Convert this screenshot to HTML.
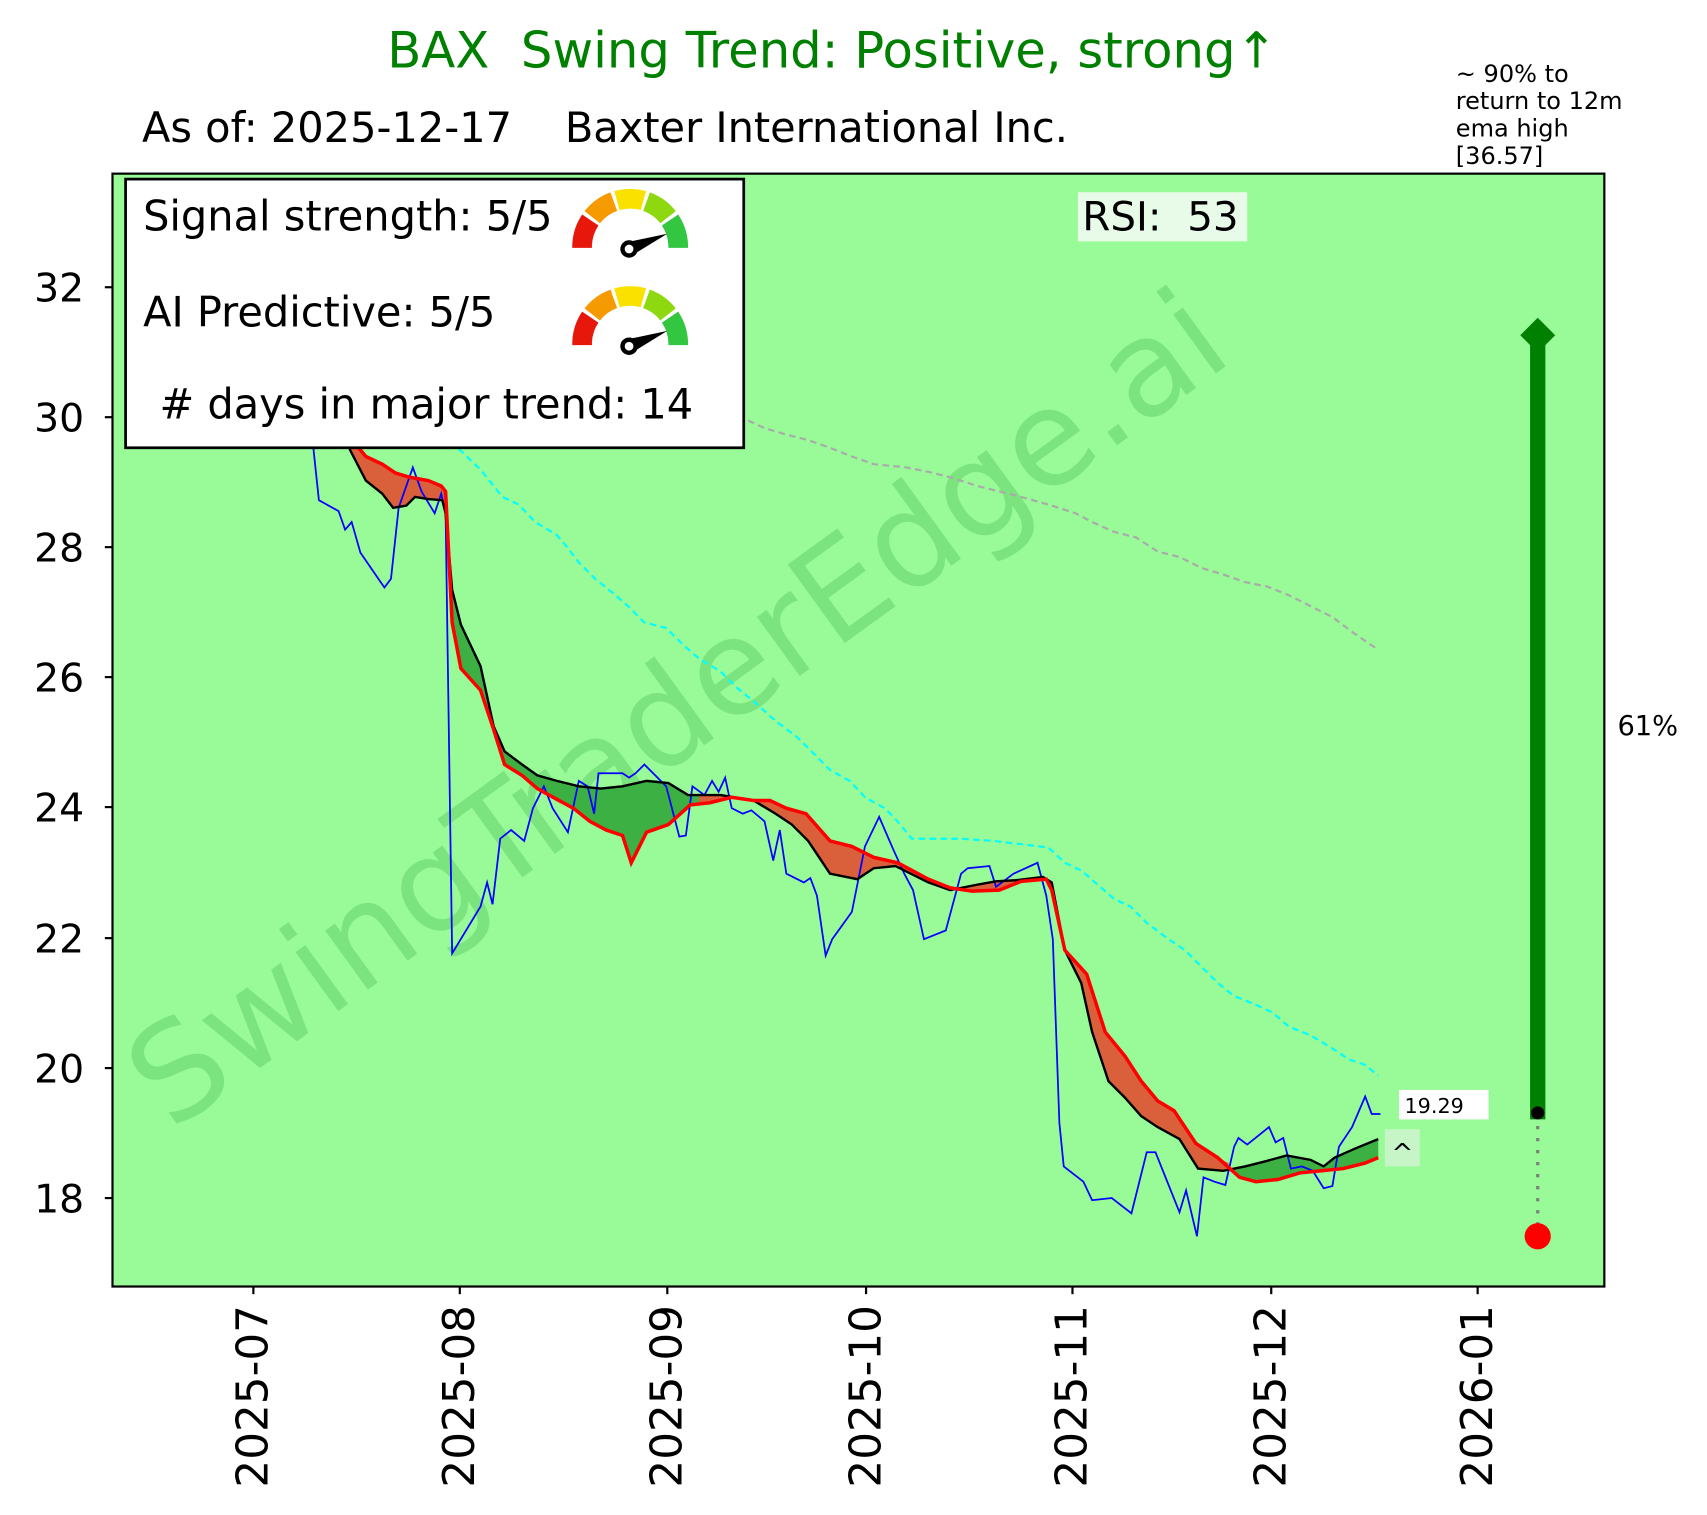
<!DOCTYPE html>
<html><head><meta charset="utf-8"><style>
html,body{margin:0;padding:0;background:#fff}
svg{display:block;font-family:"DejaVu Sans","Liberation Sans",sans-serif}
text{white-space:pre}
</style></head><body>
<svg width="1707" height="1515" viewBox="0 0 1563 1387.2" xmlns="http://www.w3.org/2000/svg" xml:space="preserve">
<defs>
<clipPath id="ax"><rect x="103" y="159" width="1366" height="1019"/></clipPath>
<clipPath id="gr"><rect x="414" y="0" width="226" height="1400"/><rect x="1125" y="0" width="200" height="1400"/></clipPath>
<clipPath id="og"><rect x="0" y="0" width="414" height="1400"/><rect x="640" y="0" width="485" height="1400"/></clipPath>
</defs>
<rect width="1563" height="1388" fill="#fff"/>
<text x="762" y="62" text-anchor="middle" font-size="45.5" fill="#008000">BAX  Swing Trend: Positive, strong↑</text>
<text x="130" y="130" font-size="38" fill="#000">As of: 2025-12-17    Baxter International Inc.</text>
<text font-size="22" fill="#000"><tspan x="1333" y="75">~ 90% to</tspan><tspan x="1333" y="100">return to 12m</tspan><tspan x="1333" y="125">ema high</tspan><tspan x="1333" y="150">[36.57]</tspan></text>
<rect x="103" y="159" width="1366" height="1019" fill="#98fb98"/>
<g clip-path="url(#ax)">
<text x="622" y="690" font-size="122" fill="#3cb043" fill-opacity="0.3" text-anchor="middle" transform="rotate(-36 622 652)">SwingTraderEdge.ai</text>
<polyline fill="none" stroke="#aaaaaa" stroke-width="2" stroke-dasharray="6,4" points="685,385 700,392 720,398 740,403 760,410 780,418 800,425 830,428 850,432 870,437 895,445 915,450 935,455 960,462 985,470 1000,478 1020,487 1040,492 1060,505 1080,510 1100,520 1120,526 1140,533 1160,537 1180,545 1200,555 1220,565 1240,580 1262,595"/>
<polyline fill="none" stroke="#00ffff" stroke-width="2" stroke-dasharray="6,4" points="420,411 440,430 460,455 475,462 490,478 510,490 520,502 530,515 545,530 560,542 575,555 590,570 610,575 625,590 640,603 660,615 675,630 690,642 710,660 730,675 745,690 760,705 778,715 792,730 810,740 820,750 835,768 880,768 910,770 935,773 960,776 975,790 990,797 1005,810 1020,823 1035,830 1050,845 1070,860 1085,870 1100,885 1115,900 1130,912 1150,920 1165,927 1180,940 1200,948 1220,960 1235,970 1250,975 1262,985"/>
<polygon clip-path="url(#gr)" fill="#3cb043" points="320,411 335,440 350,452 360,465 372,463 380,455 392,457 405,458 408,470 414,540 422,572 440,610 452,665 462,688 478,700 492,710 510,715 530,720 550,722 570,720 592,715 612,717 630,728 660,728 690,733 710,745 725,755 740,770 760,800 785,805 800,795 820,793 850,808 870,815 895,810 912,807 930,806 955,803 963,808 975,870 990,900 1000,945 1015,990 1030,1005 1045,1022 1060,1032 1080,1043 1097,1070 1120,1072 1140,1068 1160,1063 1178,1058 1200,1062 1212,1068 1222,1060 1240,1052 1262,1043 1262,1060 1250,1065 1230,1070 1210,1072 1190,1074 1170,1080 1150,1082 1135,1078 1115,1060 1095,1047 1075,1017 1060,1008 1045,990 1030,967 1012,945 995,892 975,870 963,815 958,805 935,807 915,815 890,816 870,813 850,805 822,790 800,785 780,775 760,770 738,745 720,740 705,733 690,733 670,730 650,735 632,737 612,755 592,762 578,790 570,765 555,760 540,752 525,740 510,732 492,722 478,710 462,700 452,668 440,632 422,612 414,570 408,450 404,445 392,440 375,437 362,433 350,425 335,418 320,400"/>
<polygon clip-path="url(#og)" fill="#d9603b" points="320,411 335,440 350,452 360,465 372,463 380,455 392,457 405,458 408,470 414,540 422,572 440,610 452,665 462,688 478,700 492,710 510,715 530,720 550,722 570,720 592,715 612,717 630,728 660,728 690,733 710,745 725,755 740,770 760,800 785,805 800,795 820,793 850,808 870,815 895,810 912,807 930,806 955,803 963,808 975,870 990,900 1000,945 1015,990 1030,1005 1045,1022 1060,1032 1080,1043 1097,1070 1120,1072 1140,1068 1160,1063 1178,1058 1200,1062 1212,1068 1222,1060 1240,1052 1262,1043 1262,1048 1250,1052 1230,1058 1210,1060 1190,1062 1170,1068 1150,1072 1135,1070 1115,1060 1095,1047 1075,1017 1060,1008 1045,990 1030,967 1012,945 995,892 975,870 963,815 958,805 935,807 915,815 890,816 870,813 850,805 822,790 800,785 780,775 760,770 738,745 720,740 705,733 690,733 670,730 650,735 632,737 612,755 592,762 578,790 570,765 555,760 540,752 525,740 510,732 492,722 478,710 462,700 452,668 440,632 422,612 414,570 408,450 404,445 392,440 375,437 362,433 350,425 335,418 320,400"/>
<polyline fill="none" stroke="#0000ff" stroke-width="1.6" points="287,411 292,458 310,468 316,485 322,478 330,506 352,538 358,530 365,465 378,428 386,450 398,470 404,452 408,470 414,873 440,830 446,808 451,828 458,768 468,760 480,770 488,740 498,720 506,740 520,762 530,715 538,720 544,745 548,708 570,708 576,712 582,708 590,700 600,710 610,720 622,766 628,765 634,720 645,728 652,715 658,725 664,712 670,740 680,745 688,742 700,752 708,788 714,760 720,800 736,808 742,804 748,820 756,875 762,860 780,835 792,775 805,748 818,778 828,800 836,815 846,860 866,852 880,800 886,795 906,793 912,812 928,800 950,790 958,820 964,860 970,1028 974,1068 992,1082 1000,1099 1018,1097 1036,1111 1050,1055 1058,1055 1068,1080 1080,1110 1086,1090 1096,1132 1102,1078 1112,1082 1122,1085 1130,1050 1134,1042 1142,1048 1152,1040 1162,1032 1168,1046 1175,1042 1182,1070 1192,1068 1202,1072 1212,1088 1220,1086 1226,1050 1238,1032 1250,1004 1256,1020 1264,1020"/>
<polyline fill="none" stroke="#000" stroke-width="2.2" points="320,411 335,440 350,452 360,465 372,463 380,455 392,457 405,458 408,470 414,540 422,572 440,610 452,665 462,688 478,700 492,710 510,715 530,720 550,722 570,720 592,715 612,717 630,728 660,728 690,733 710,745 725,755 740,770 760,800 785,805 800,795 820,793 850,808 870,815 895,810 912,807 930,806 955,803 963,808 975,870 990,900 1000,945 1015,990 1030,1005 1045,1022 1060,1032 1080,1043 1097,1070 1120,1072 1140,1068 1160,1063 1178,1058 1200,1062 1212,1068 1222,1060 1240,1052 1262,1043"/>
<polyline fill="none" stroke="#ff0000" stroke-width="3.2" points="320,400 335,418 350,425 362,433 375,437 392,440 404,445 408,450 414,570 422,612 440,632 452,668 462,700 478,710 492,722 510,732 525,740 540,752 555,760 570,765 578,790 592,762 612,755 632,737 650,735 670,730 690,733 705,733 720,740 738,745 760,770 780,775 800,785 822,790 850,805 870,813 890,816 915,815 935,807 958,805 963,815 975,870 995,892 1012,945 1030,967 1045,990 1060,1008 1075,1017 1095,1047 1115,1060 1135,1078 1150,1082 1170,1080 1190,1074 1210,1072 1230,1070 1250,1065 1262,1060"/>
<line x1="1408" y1="1020" x2="1408" y2="1132" stroke="#808080" stroke-width="3" stroke-dasharray="3,8"/>
<line x1="1408" y1="1025" x2="1408" y2="315" stroke="#008000" stroke-width="14"/>
<polygon points="1408,291 1424,307 1408,323 1392,307" fill="#008000"/>
<circle cx="1408" cy="1019" r="6" fill="#000"/>
<circle cx="1408" cy="1132" r="12" fill="#ff0000"/>
<rect x="1281" y="998" width="82" height="27" fill="#fff"/>
<text x="1286" y="1019" font-size="19">19.29</text>
<rect x="1268" y="1034" width="32" height="34" fill="#c8f5c8"/>
<text x="1274" y="1064" font-size="24">^</text>
<rect x="987" y="176" width="155" height="45" fill="#e8fbe8"/>
<text x="991" y="211" font-size="37">RSI:  53</text>
<rect x="115" y="164" width="566" height="246" fill="#fff" stroke="#000" stroke-width="2.5"/>
<text x="131" y="211" font-size="38">Signal strength: 5/5</text>
<text x="131" y="299" font-size="38">AI Predictive: 5/5</text>
<text x="146" y="383" font-size="38"># days in major trend: 14</text>
<g id="g1" fill="none" stroke-width="18">
<path d="M533,227 L533,224.5 A44,44 0 0 1 540.5,201.4" stroke="#e8170b"/>
<path d="M542.3,198.9 A44,44 0 0 1 562,184.6" stroke="#f59a00"/>
<path d="M564.9,183.7 A44,44 0 0 1 589.1,183.7" stroke="#fbe100"/>
<path d="M592,184.6 A44,44 0 0 1 611.7,198.9" stroke="#8ed80f"/>
<path d="M613.5,201.4 A44,44 0 0 1 621,224.5 L621,227" stroke="#33c640"/>
<polygon points="573,222 611,214 580,233" fill="#000" stroke="none"/>
<circle cx="576" cy="228" r="6" fill="#fff" stroke="#000" stroke-width="4"/>
</g>
<use href="#g1" transform="translate(0,89)"/>
</g>
<rect x="103" y="159" width="1366" height="1019" fill="none" stroke="#000" stroke-width="2"/>
<g stroke="#000" stroke-width="2">
<line x1="96" y1="263" x2="103" y2="263"/><line x1="96" y1="382" x2="103" y2="382"/><line x1="96" y1="501" x2="103" y2="501"/><line x1="96" y1="620" x2="103" y2="620"/><line x1="96" y1="739" x2="103" y2="739"/><line x1="96" y1="859" x2="103" y2="859"/><line x1="96" y1="978" x2="103" y2="978"/><line x1="96" y1="1097" x2="103" y2="1097"/>
<line x1="232" y1="1178" x2="232" y2="1185"/><line x1="421" y1="1178" x2="421" y2="1185"/><line x1="611" y1="1178" x2="611" y2="1185"/><line x1="793" y1="1178" x2="793" y2="1185"/><line x1="982" y1="1178" x2="982" y2="1185"/><line x1="1164" y1="1178" x2="1164" y2="1185"/><line x1="1353" y1="1178" x2="1353" y2="1185"/>
</g>
<g font-size="36" text-anchor="end">
<text x="77" y="276">32</text><text x="77" y="395">30</text><text x="77" y="514">28</text><text x="77" y="633">26</text><text x="77" y="752">24</text><text x="77" y="872">22</text><text x="77" y="991">20</text><text x="77" y="1110">18</text>
</g>
<g font-size="40" text-anchor="end">
<text transform="translate(245,1195) rotate(-90)">2025-07</text>
<text transform="translate(434,1195) rotate(-90)">2025-08</text>
<text transform="translate(624,1195) rotate(-90)">2025-09</text>
<text transform="translate(806,1195) rotate(-90)">2025-10</text>
<text transform="translate(995,1195) rotate(-90)">2025-11</text>
<text transform="translate(1177,1195) rotate(-90)">2025-12</text>
<text transform="translate(1366,1195) rotate(-90)">2026-01</text>
</g>
<text x="1481" y="673" font-size="25">61%</text>
</svg>
</body></html>
